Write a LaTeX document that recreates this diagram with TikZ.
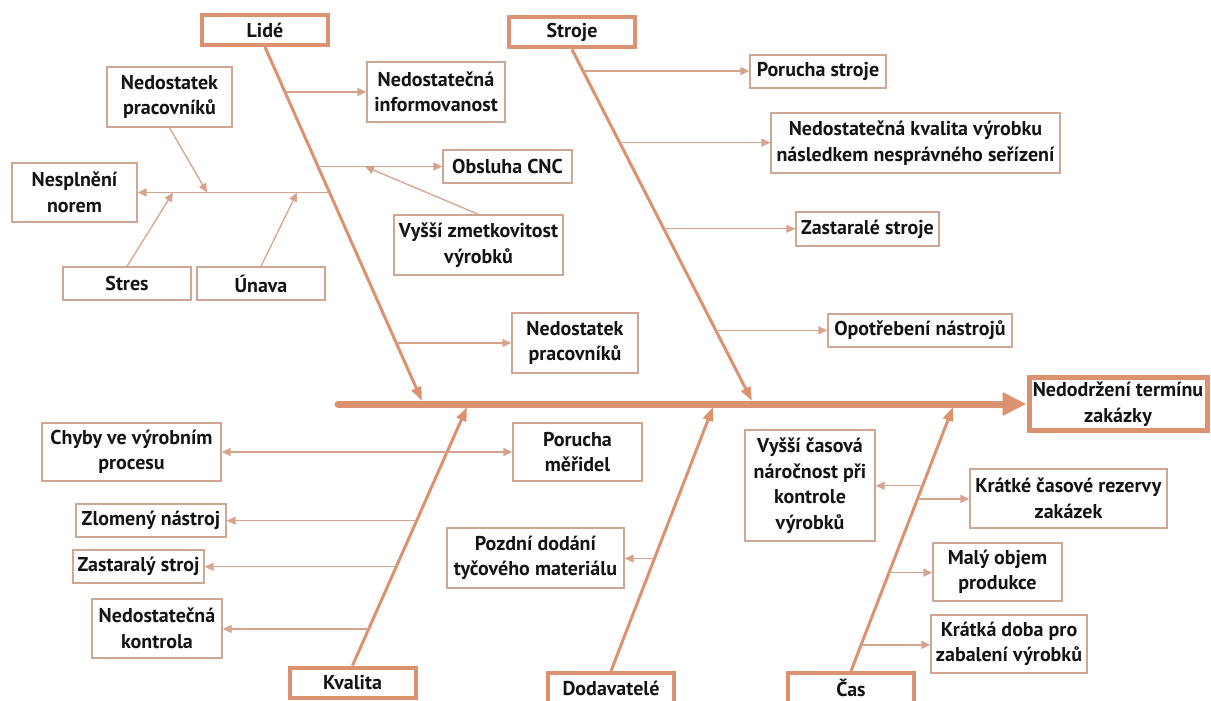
\documentclass[tikz,border=0pt]{standalone}
\usepackage{fontspec}
\setmainfont{PT Sans}
\usetikzlibrary{arrows.meta,calc}
\definecolor{bonecol}{RGB}{219,146,112}
\definecolor{leafline}{RGB}{214,163,142}
\definecolor{leafborder}{RGB}{206,166,148}
\definecolor{txt}{RGB}{20,20,20}
\begin{document}
\begin{tikzpicture}[x=1pt,y=-1pt,
  every node/.style={font=\fontsize{20}{25.5}\selectfont\bfseries, text=txt, align=center, inner sep=0pt},
  leaf/.style={draw=leafborder, line width=1.3pt, fill=white},
  cat/.style={draw=bonecol, line width=4pt, fill=white, minimum width=126pt, minimum height=30pt},
  effect/.style={draw=bonecol, line width=5pt, fill=white},
  bone/.style={draw=bonecol, line width=3pt, -{Triangle[length=14pt,width=10pt]}},
  spine/.style={draw=bonecol, line width=7pt, line cap=round, -{Triangle[length=24pt,width=22pt]}},
  twig/.style={draw=leafline, line width=1.3pt, -{Triangle[length=9pt,width=8pt]}},
  twigboth/.style={draw=leafline, line width=1.3pt, {Triangle[length=9pt,width=8pt]}-{Triangle[length=9pt,width=8pt]}}]
\useasboundingbox (0,0) rectangle (1211,701);

% effect and category boxes
\node[effect, minimum width=178pt, minimum height=53pt] (eff) at (1118,404) {Nedodržení termínu\\zakázky};
\node[cat] (lide) at (265,30) {Lidé};
\node[cat] (stroje) at (572,32.5) {Stroje};
\node[cat] (kval) at (352.5,682.5) {Kvalita};
\node[cat] (dod) at (611,688) {Dodavatelé};
\node[cat] (cas) at (851,688) {Čas};

% spine and bone tips
\coordinate (spineL) at (338,404);
\coordinate (lideTip) at (422,401);
\coordinate (strojeTip) at (752,401);
\coordinate (kvalTip) at (467,407);
\coordinate (dodTip) at (713,407);
\coordinate (casTip) at (953,407);

\draw[spine] (spineL) -- (eff.west);
\draw[bone] (lide.south) -- (lideTip);
\draw[bone] (stroje.south) -- (strojeTip);
\draw[bone] (kval.north) -- (kvalTip);
\draw[bone] (dod.north) -- (dodTip);
\draw[bone] (cas.north) -- (casTip);

% causes: Lidé
\node[leaf, minimum width=138pt, minimum height=60pt] (inf) at (436,92) {Nedostatečná\\informovanost};
\node[leaf, minimum width=129pt, minimum height=33pt] (obs) at (507.5,166.5) {Obsluha CNC};
\node[leaf, minimum width=169pt, minimum height=60pt] (zmet) at (478.5,245) {Vyšší zmetkovitost\\výrobků};
\node[leaf, minimum width=125pt, minimum height=59pt] (nesp) at (74.5,192.5) {Nesplnění\\norem};
\node[leaf, minimum width=125pt, minimum height=60pt] (nedpA) at (169.5,97) {Nedostatek\\pracovníků};
\node[leaf, minimum width=128pt, minimum height=33pt] (stres) at (127,283.5) {Stres};
\node[leaf, minimum width=128pt, minimum height=33pt] (unava) at (261,283.5) {Únava};
\node[leaf, minimum width=126pt, minimum height=60pt] (nedpB) at (575,343) {Nedostatek\\pracovníků};

\coordinate (l1) at ($(lide.south)!0.127!(lideTip)$);
\coordinate (l2) at ($(lide.south)!0.3376!(lideTip)$);
\coordinate (l3) at ($(lide.south)!0.411!(lideTip)$);
\coordinate (l4) at ($(lide.south)!0.836!(lideTip)$);
\draw[twig] (l1) -- (l1 -| inf.west);
\draw[twig] (l2) -- (l2 -| obs.west);
\draw[twig] (l3) -- (l3 -| nesp.east);
\draw[twig] (l4) -- (l4 -| nedpB.west);
\draw[twig] (zmet.north) -- (365,0 |- l2);
\draw[twig] (nedpA.south) -- (207,0 |- l3);
\draw[twig] (stres.north) -- (173,0 |- l3);
\draw[twig] (unava.north) -- (297,0 |- l3);

% causes: Stroje
\node[leaf, minimum width=136pt, minimum height=33pt] (porS) at (818,71.5) {Porucha stroje};
\node[leaf, minimum width=289pt, minimum height=60pt] (kvalS) at (915.5,143) {Nedostatečná kvalita výrobku\\následkem nesprávného seřízení};
\node[leaf, minimum width=143pt, minimum height=34pt] (zastS) at (867.5,229) {Zastaralé stroje};
\node[leaf, minimum width=184pt, minimum height=33pt] (opot) at (920,330.5) {Opotřebení nástrojů};

\coordinate (s1) at ($(stroje.south)!0.0613!(strojeTip)$);
\coordinate (s2) at ($(stroje.south)!0.265!(strojeTip)$);
\coordinate (s3) at ($(stroje.south)!0.51!(strojeTip)$);
\coordinate (s4) at ($(stroje.south)!0.799!(strojeTip)$);
\draw[twig] (s1) -- (s1 -| porS.west);
\draw[twig] (s2) -- (s2 -| kvalS.west);
\draw[twig] (s3) -- (s3 -| zastS.west);
\draw[twig] (s4) -- (s4 -| opot.west);

% causes: Kvalita
\node[leaf, minimum width=179pt, minimum height=58pt] (chyby) at (131.5,452) {Chyby ve výrobním\\procesu};
\node[leaf, minimum width=129pt, minimum height=58pt] (porM) at (577.5,452) {Porucha\\měřidel};
\node[leaf, minimum width=150pt, minimum height=33pt] (zlom) at (151,520.5) {Zlomený nástroj};
\node[leaf, minimum width=131pt, minimum height=33pt] (zastK) at (138.5,566.5) {Zastaralý stroj};
\node[leaf, minimum width=130pt, minimum height=59pt] (nedk) at (157,628.5) {Nedostatečná\\kontrola};

\coordinate (k1) at ($(kval.north)!0.560!(kvalTip)$);
\coordinate (k2) at ($(kval.north)!0.382!(kvalTip)$);
\coordinate (k3) at ($(kval.north)!0.1415!(kvalTip)$);
\draw[twigboth] (chyby.east) -- (chyby.east -| porM.west);
\draw[twig] (k1) -- (k1 -| zlom.east);
\draw[twig] (k2) -- (k2 -| zastK.east);
\draw[twig] (k3) -- (k3 -| nedk.east);

% causes: Dodavatelé
\node[leaf, minimum width=177pt, minimum height=60pt] (pozd) at (535.5,558) {Pozdní dodání\\tyčového materiálu};
\coordinate (d1) at ($(dod.north)!0.426!(dodTip)$);
\draw[twig] (d1) -- (d1 -| pozd.east);

% causes: Čas
\node[leaf, minimum width=130pt, minimum height=111pt] (vyssi) at (810,485.5) {Vyšší časová\\náročnost při\\kontrole\\výrobků};
\node[leaf, minimum width=197pt, minimum height=59pt] (kratR) at (1068.5,498.5) {Krátké časové rezervy\\zakázek};
\node[leaf, minimum width=129pt, minimum height=58pt] (maly) at (997.5,572) {Malý objem\\produkce};
\node[leaf, minimum width=156pt, minimum height=58pt] (kratD) at (1009,644) {Krátká doba pro\\zabalení výrobků};

\coordinate (c1) at ($(cas.north)!0.7015!(casTip)$);
\coordinate (c2) at ($(cas.north)!0.652!(casTip)$);
\coordinate (c3) at ($(cas.north)!0.3726!(casTip)$);
\coordinate (c4) at ($(cas.north)!0.0989!(casTip)$);
\draw[twig] (c1) -- (c1 -| vyssi.east);
\draw[twig] (c2) -- (c2 -| kratR.west);
\draw[twig] (c3) -- (c3 -| maly.west);
\draw[twig] (c4) -- (c4 -| kratD.west);
\end{tikzpicture}
\end{document}
